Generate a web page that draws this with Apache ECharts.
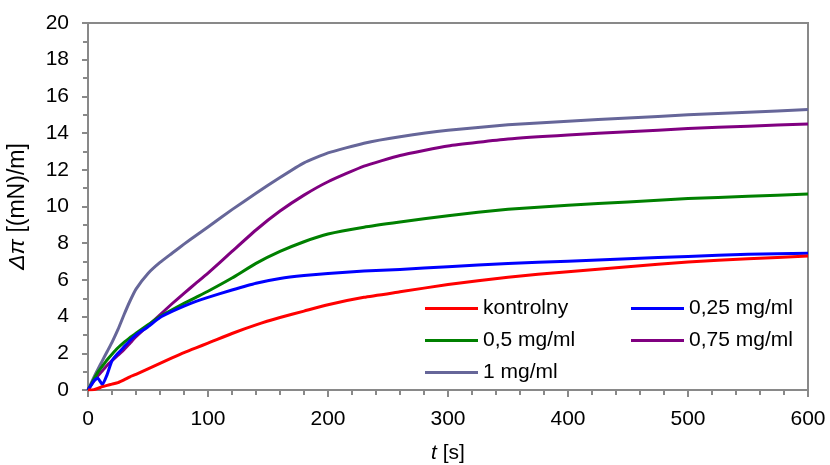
<!DOCTYPE html>
<html>
<head>
<meta charset="utf-8">
<script src="https://cdn.jsdelivr.net/npm/echarts@6/dist/echarts.min.js"></script>
<style>
  html, body { margin: 0; padding: 0; background: #fff; }
  #chart { width: 830px; height: 465px; }
</style>
</head>
<body>
<div id="chart"></div>
<script>
// time points [s]
var times = [0, 5, 8, 12, 16, 20, 25, 30, 35, 40, 50, 60, 70, 80, 90, 100, 120, 140, 160, 180, 200, 230, 260, 300, 350, 400, 450, 500, 550, 600];

// delta pi [(mN)/m] for each sample
var kontrolny = [0, 0.02, 0.08, 0.18, 0.25, 0.32, 0.4, 0.55, 0.72, 0.85, 1.15, 1.45, 1.75, 2.04, 2.3, 2.55, 3.08, 3.55, 3.95, 4.3, 4.65, 5.05, 5.35, 5.75, 6.15, 6.45, 6.72, 6.98, 7.15, 7.3];
var mg025 = [0, 0.5, 0.65, 0.3, 0.85, 1.6, 2.0, 2.35, 2.7, 3.0, 3.45, 3.95, 4.28, 4.57, 4.83, 5.05, 5.45, 5.82, 6.08, 6.24, 6.35, 6.48, 6.57, 6.72, 6.9, 7.02, 7.15, 7.28, 7.4, 7.45];
var mg05 = [0, 0.6, 0.95, 1.3, 1.65, 1.95, 2.3, 2.6, 2.85, 3.1, 3.55, 4.0, 4.37, 4.72, 5.05, 5.38, 6.1, 6.9, 7.55, 8.08, 8.5, 8.87, 9.15, 9.5, 9.85, 10.07, 10.25, 10.43, 10.56, 10.68];
var mg075 = [0, 0.5, 0.75, 1.05, 1.35, 1.6, 1.9, 2.2, 2.55, 2.9, 3.5, 4.1, 4.7, 5.27, 5.82, 6.37, 7.55, 8.72, 9.75, 10.62, 11.35, 12.2, 12.78, 13.3, 13.68, 13.9, 14.07, 14.25, 14.38, 14.5];
var mg1 = [0, 0.7, 1.1, 1.6, 2.1, 2.6, 3.3, 4.1, 4.85, 5.5, 6.35, 6.95, 7.45, 7.95, 8.42, 8.88, 9.83, 10.72, 11.58, 12.38, 12.92, 13.45, 13.8, 14.15, 14.45, 14.65, 14.82, 15.0, 15.13, 15.28];

var seriesNames = ['kontrolny', '0,25 mg/ml', '0,5 mg/ml', '0,75 mg/ml', '1 mg/ml'];
var seriesValues = [kontrolny, mg025, mg05, mg075, mg1];
var seriesColors = ['#ff0000', '#0000ff', '#008000', '#800080', '#666699'];

var font = 'Liberation Sans, Arial, sans-serif';
var axisGray = '#898989';

var chart = echarts.init(document.getElementById('chart'));

function pairs(vals) {
    return times.map(function (t, i) { return [t, vals[i]]; });
}

var series = seriesNames.map(function (name, i) {
    return {
        name: name,
        type: 'line',
        data: pairs(seriesValues[i]),
        symbol: 'none',
        smooth: 0.15,
        lineStyle: { color: seriesColors[i], width: 3, join: 'round' },
        itemStyle: { color: seriesColors[i] },
        z: 10 - i
    };
});
series[0].z = 12;

var legendCommon = {
    orient: 'vertical',
    itemWidth: 53,
    itemHeight: 3,
    itemGap: 11,
    icon: 'rect',
    textStyle: { fontFamily: font, fontSize: 21, color: '#000' },
    selectedMode: false
};

var option = {
    animation: false,
    backgroundColor: '#fff',
    grid: {
        left: 88, right: 22, top: 23, bottom: 75,
        outerBoundsMode: 'none',
        containLabel: false,
        show: true, borderColor: axisGray, borderWidth: 2,
        backgroundColor: 'transparent'
    },
    legend: [
        Object.assign({}, legendCommon, {
            left: 420, top: 293,
            data: ['kontrolny', '0,5 mg/ml', '1 mg/ml']
        }),
        Object.assign({}, legendCommon, {
            left: 626, top: 293,
            data: ['0,25 mg/ml', '0,75 mg/ml']
        })
    ],
    xAxis: {
        type: 'value',
        min: 0, max: 600, interval: 100,
        name: '{i|t} [s]',
        nameLocation: 'middle',
        nameGap: 53,
        nameTextStyle: {
            fontFamily: font, fontSize: 21, color: '#000',
            rich: { i: { fontFamily: font, fontSize: 21, fontStyle: 'italic', color: '#000' } }
        },
        axisLine: { show: true, onZero: false, lineStyle: { color: axisGray, width: 2 } },
        axisTick: { show: true, length: 7, lineStyle: { color: axisGray, width: 2 } },
        minorTick: { show: true, splitNumber: 5, length: 5, lineStyle: { color: axisGray, width: 2 } },
        splitLine: { show: false },
        axisLabel: { fontFamily: font, fontSize: 21, color: '#000', margin: 19 }
    },
    yAxis: {
        type: 'value',
        min: 0, max: 20, interval: 2,
        name: '{i|Δπ} [(mN)/m]',
        nameLocation: 'middle',
        nameGap: 59,
        nameRotate: 90,
        nameTextStyle: {
            fontFamily: font, fontSize: 23, color: '#000',
            rich: { i: { fontFamily: font, fontSize: 23, fontStyle: 'italic', color: '#000' } }
        },
        axisLine: { show: true, lineStyle: { color: axisGray, width: 2 } },
        axisTick: { show: true, length: 6, lineStyle: { color: axisGray, width: 2 } },
        minorTick: { show: true, splitNumber: 2, length: 5, lineStyle: { color: axisGray, width: 2 } },
        splitLine: { show: false },
        axisLabel: { fontFamily: font, fontSize: 21, color: '#000', margin: 19 }
    },
    series: series
};

chart.setOption(option);
</script>
</body>
</html>
